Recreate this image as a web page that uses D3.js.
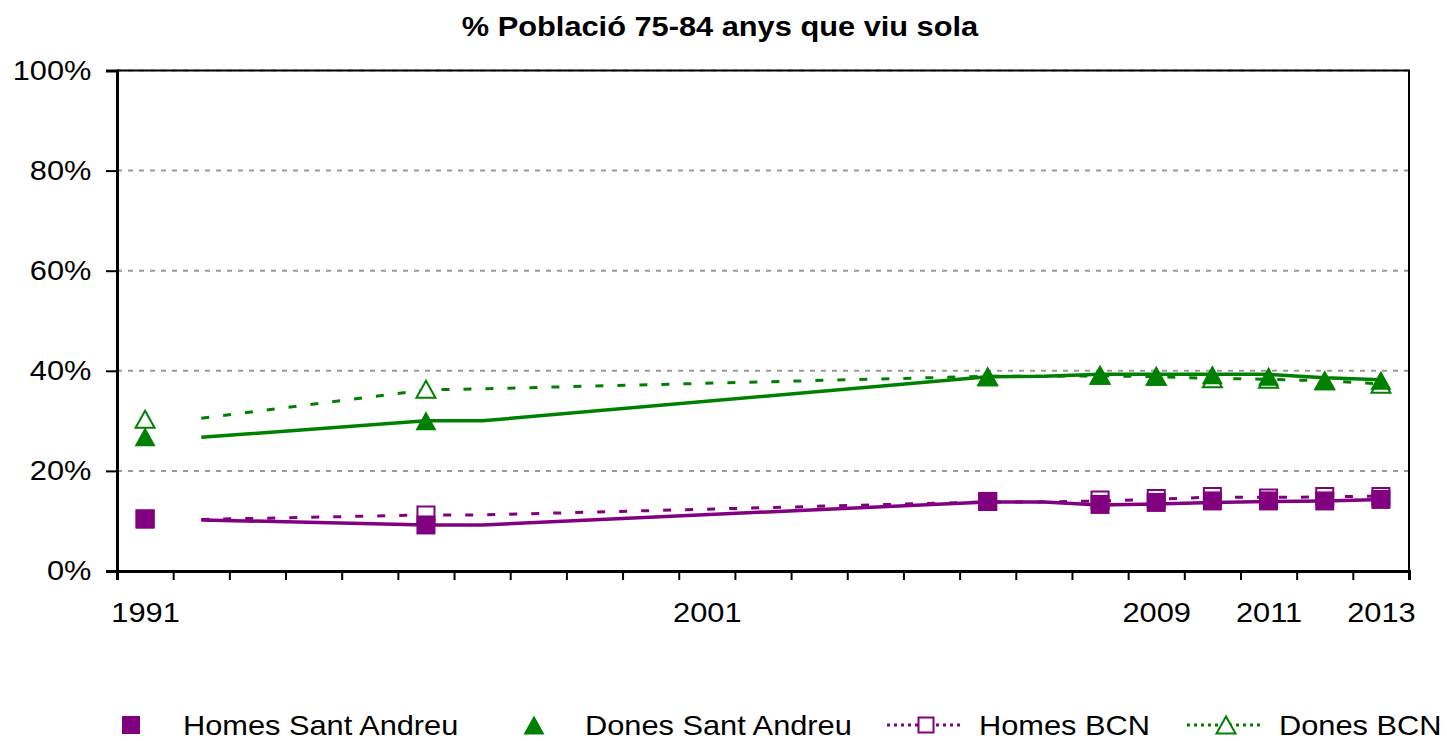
<!DOCTYPE html>
<html>
<head>
<meta charset="utf-8">
<script src="https://d3js.org/d3.v7.min.js"></script>
<style>
  body { margin: 0; background: #fff; }
  svg text { font-family: "Liberation Sans", Arial, sans-serif; fill: #000; }
</style>
</head>
<body>
<div id="chart"></div>
<script>
// categories (one band per year) and the labelled ones
const years = [1991, 1992, 1993, 1994, 1995, 1996, 1997, 1998, 1999, 2000, 2001, 2002,
               2003, 2004, 2005, 2006, 2007, 2008, 2009, 2010, 2011, 2012, 2013];
const labelYears = [1991, 2001, 2009, 2011, 2013];
const yTicks = [0, 20, 40, 60, 80, 100];

// marker series (%)
const markerYears = [1991, 1996, 2006, 2008, 2009, 2010, 2011, 2012, 2013];
const homesSantAndreu = [10.4, 9.2, 13.9, 13.3, 13.7, 14.0, 14.0, 14.0, 14.3];
const donesSantAndreu = [26.8, 30.0, 38.8, 39.1, 38.9, 39.2, 38.9, 38.0, 38.1];
const homesBCN = [10.4, 11.2, 13.9, 14.2, 14.5, 14.9, 14.6, 14.9, 14.9];
const donesBCN = [30.3, 36.3, 38.8, 39.1, 38.9, 38.4, 38.3, 38.0, 37.3];

// line series (%), drawn on their own points
const lineYears = [1992, 1996, 1997, 2006, 2007, 2008, 2009, 2010, 2011, 2012, 2013];
const homesSantAndreuLine = [10.2, 9.2, 9.2, 13.8, 13.8, 13.2, 13.4, 13.7, 13.9, 14.0, 14.3];
const donesSantAndreuLine = [26.7, 30.0, 30.0, 38.8, 38.9, 39.3, 39.3, 39.3, 39.3, 38.6, 38.2];
const homesBCNLine = [10.3, 11.2, 11.2, 13.8, 13.8, 14.0, 14.3, 14.8, 14.7, 14.8, 15.0];
const donesBCNLine = [30.5, 36.2, 36.4, 38.9, 38.9, 39.0, 38.8, 38.5, 38.3, 38.0, 37.4];

const title = '% Població 75-84 anys que viu sola';
const legendNames = ['Homes Sant Andreu', 'Dones Sant Andreu', 'Homes BCN', 'Dones BCN'];

const purple = '#800080';
const green = '#008000';
const stretch = 'scale(1.14,1)';
const fontSize = '27px';

const W = 1447, H = 741;
const svg = d3.select('#chart').append('svg')
    .attr('width', W)
    .attr('height', H);

const x = d3.scaleLinear()
    .domain([years[0] - 0.5, years[years.length - 1] + 0.5])
    .range([117, 1409]);
const y = d3.scaleLinear().domain([0, 100]).range([571, 70.5]);

// title
svg.append('text')
    .attr('transform', `translate(720,36) ${stretch}`)
    .attr('text-anchor', 'middle')
    .style('font-size', fontSize)
    .style('font-weight', 'bold')
    .text(title);

// gridlines
svg.selectAll('.grid')
    .data(yTicks.filter(d => d > 0))
    .enter()
    .append('line')
    .attr('class', 'grid')
    .attr('x1', x.range()[0])
    .attr('x2', x.range()[1])
    .attr('y1', d => y(d))
    .attr('y2', d => y(d))
    .attr('stroke', '#999')
    .attr('stroke-width', 2)
    .attr('stroke-dasharray', '5,6');

// plot area border (top and right)
svg.append('path')
    .attr('d', `M${x.range()[0]},${y(100)}H${x.range()[1]}V${y(0)}`)
    .attr('fill', 'none')
    .attr('stroke', '#000')
    .attr('stroke-width', 2);

// y axis
const yAxis = svg.append('g')
    .attr('transform', `translate(${x.range()[0]},0)`)
    .call(d3.axisLeft(y).tickValues(yTicks).tickSize(11).tickFormat(d => d + '%'));
yAxis.select('.domain').attr('stroke-width', 3);
yAxis.selectAll('line').attr('stroke-width', 2);
yAxis.selectAll('text')
    .attr('x', -22.5)
    .attr('transform', stretch)
    .style('font-size', fontSize);

// x axis: tick marks on the band edges, labels in the middle
const boundaries = years.map(d => d - 0.5).concat([years[years.length - 1] + 0.5]);
const xAxis = svg.append('g')
    .attr('transform', `translate(0,${y(0)})`)
    .call(d3.axisBottom(x).tickValues(boundaries).tickSize(9).tickFormat(''));
xAxis.select('.domain').attr('stroke-width', 3);
xAxis.selectAll('line').attr('stroke-width', 2);

const xLabels = svg.append('g')
    .attr('transform', `translate(0,${y(0)})`)
    .call(d3.axisBottom(x).tickValues(labelYears).tickSize(0).tickFormat(d3.format('d')));
xLabels.select('.domain').remove();
xLabels.selectAll('text')
    .attr('y', 51)
    .attr('dy', 0)
    .attr('transform', stretch)
    .style('font-size', fontSize);

// shapes
const squarePath = s => `M${-s / 2},${-s / 2}h${s}v${s}h${-s}Z`;
const trianglePath = (w, h) => `M0,${-h / 2}L${w / 2},${h / 2}L${-w / 2},${h / 2}Z`;

function drawLine(xs, vals, color, dashed) {
  const line = d3.line()
      .x(d => x(d[0]))
      .y(d => y(d[1]));
  svg.append('path')
      .datum(xs.map((d, i) => [d, vals[i]]))
      .attr('d', line)
      .attr('fill', 'none')
      .attr('stroke', color)
      .attr('stroke-width', dashed ? 3 : 3.5)
      .attr('stroke-dasharray', dashed ? '8,14' : null);
}

function drawMarkers(vals, shape, color, open) {
  svg.append('g')
      .selectAll('path')
      .data(markerYears.map((d, i) => [d, vals[i]]))
      .enter()
      .append('path')
      .attr('transform', d => `translate(${x(d[0])},${y(d[1])})`)
      .attr('d', shape)
      .attr('fill', open ? '#fff' : color)
      .attr('stroke', open ? color : 'none')
      .attr('stroke-width', 2);
}

// BCN series below, Sant Andreu on top
drawLine(lineYears, homesBCNLine, purple, true);
drawLine(lineYears, donesBCNLine, green, true);
drawMarkers(homesBCN, squarePath(17), purple, true);
drawMarkers(donesBCN, trianglePath(19, 17), green, true);
drawLine(lineYears, homesSantAndreuLine, purple, false);
drawLine(lineYears, donesSantAndreuLine, green, false);
drawMarkers(homesSantAndreu, squarePath(19), purple, false);
drawMarkers(donesSantAndreu, trianglePath(21, 19), green, false);

// legend
const legend = svg.append('g').attr('transform', 'translate(0,725)');
const legendItems = [
  {name: legendNames[0], cx: 131, tx: 183, shape: squarePath(18), color: purple, open: false},
  {name: legendNames[1], cx: 534, tx: 585, shape: trianglePath(21, 19), color: green, open: false},
  {name: legendNames[2], cx: 926, tx: 979, shape: squarePath(15), color: purple, open: true, x1: 887, x2: 963},
  {name: legendNames[3], cx: 1226, tx: 1279, shape: trianglePath(19, 17), color: green, open: true, x1: 1187, x2: 1263}
];
legendItems.forEach(it => {
  if (it.open) {
    legend.append('line')
        .attr('x1', it.x1).attr('x2', it.x2)
        .attr('stroke', it.color)
        .attr('stroke-width', 3)
        .attr('stroke-dasharray', '3,4');
  }
  legend.append('path')
      .attr('transform', `translate(${it.cx},0)`)
      .attr('d', it.shape)
      .attr('fill', it.open ? '#fff' : it.color)
      .attr('stroke', it.open ? it.color : 'none')
      .attr('stroke-width', 2);
  legend.append('text')
      .attr('transform', `translate(${it.tx},10) ${stretch}`)
      .style('font-size', fontSize)
      .text(it.name);
});
</script>
</body>
</html>
